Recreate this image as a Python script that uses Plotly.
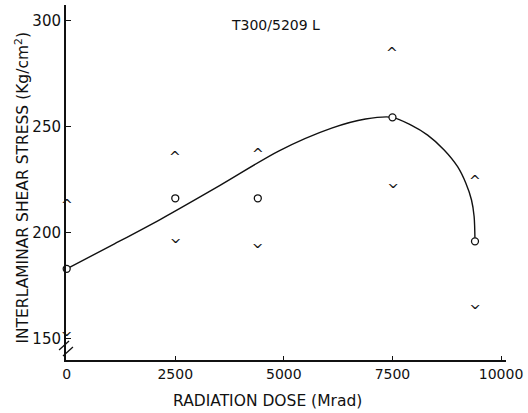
import plotly.graph_objects as go

# Data
dose = [0, 2500, 4400, 7500, 9400]
mean_stress = [183, 216.3, 216.3, 254.5, 196]
upper_stress = [214.5, 237.2, 238.7, 286.5, 226]
lower_stress = [152.8, 196.7, 194.3, 222.5, 165.5]

curve_dose = [0, 1100, 2160, 3530, 4890, 6100, 6880, 7500, 7930, 8310, 8690,
              9000, 9190, 9320, 9380, 9400]
curve_stress = [183, 194.8, 206.4, 222.4, 238.7, 249.4, 253.7, 254.5, 250.8,
                246.1, 239.1, 231.2, 223.4, 215.5, 207.7, 196]

x_ticks = [0, 2500, 5000, 7500, 10000]
y_ticks = [150, 200, 250, 300]

FONT = "DejaVu Sans"
INK = "#111111"

fig = go.Figure()

fig.add_trace(go.Scatter(
    x=curve_dose, y=curve_stress, mode="lines",
    line=dict(color=INK, width=1.4, shape="spline", smoothing=0.8),
    showlegend=False, hoverinfo="skip"))

fig.add_trace(go.Scatter(
    x=dose, y=mean_stress, mode="markers",
    marker=dict(symbol="circle", size=7, color="white",
                line=dict(color=INK, width=1.3)),
    cliponaxis=False, showlegend=False))

annotations = []
for xv, yv in zip(dose, upper_stress):
    annotations.append(dict(x=xv, y=yv, xref="x", yref="y", text="^",
                            showarrow=False, yshift=-3,
                            font=dict(family=FONT, size=14, color=INK)))
for xv, yv in zip(dose, lower_stress):
    annotations.append(dict(x=xv, y=yv, xref="x", yref="y", text="^",
                            textangle=180, showarrow=False, yshift=3,
                            font=dict(family=FONT, size=14, color=INK)))
annotations.append(dict(x=0.475, y=0.944, xref="paper", yref="paper",
                        xanchor="center", yanchor="middle",
                        text="T300/5209 L", showarrow=False,
                        font=dict(family=FONT, size=14, color=INK)))
# axis titles
annotations.append(dict(x=0.457, y=-0.1155, xref="paper", yref="paper",
                        xanchor="center", yanchor="middle",
                        text="RADIATION DOSE (Mrad)", showarrow=False,
                        font=dict(family=FONT, size=15.5, color=INK)))
annotations.append(dict(x=-0.101, y=0.4845, xref="paper", yref="paper",
                        xanchor="center", yanchor="middle", textangle=-90,
                        text="INTERLAMINAR SHEAR STRESS (Kg/cm<sup>2</sup>)",
                        showarrow=False,
                        font=dict(family=FONT, size=15.5, color=INK)))

shapes = [
    dict(type="line", xref="paper", yref="paper",
         x0=-0.0158, y0=0.0282, x1=0.0068, y1=0.0535,
         line=dict(color=INK, width=1.3)),
    dict(type="line", xref="paper", yref="paper",
         x0=-0.0068, y0=0.0113, x1=0.0158, y1=0.0366,
         line=dict(color=INK, width=1.3)),
]

fig.update_layout(
    width=528, height=413,
    margin=dict(l=66, r=18, t=5, b=53),
    paper_bgcolor="white", plot_bgcolor="white",
    font=dict(family=FONT, color=INK),
    annotations=annotations, shapes=shapes,
    xaxis=dict(range=[-16, 10114], tickvals=x_ticks,
               ticktext=[str(v) for v in x_ticks],
               showgrid=False, zeroline=False,
               showline=True, linecolor=INK, linewidth=1.5,
               ticks="inside", ticklen=4, tickcolor=INK,
               tickfont=dict(family=FONT, size=14, color=INK)),
    yaxis=dict(range=[140, 307.5], tickvals=y_ticks,
               showgrid=False, zeroline=False,
               showline=True, linecolor=INK, linewidth=2,
               ticks="inside", ticklen=5, tickcolor=INK,
               tickfont=dict(family=FONT, size=15, color=INK)),
)

fig.write_html("out.html")
